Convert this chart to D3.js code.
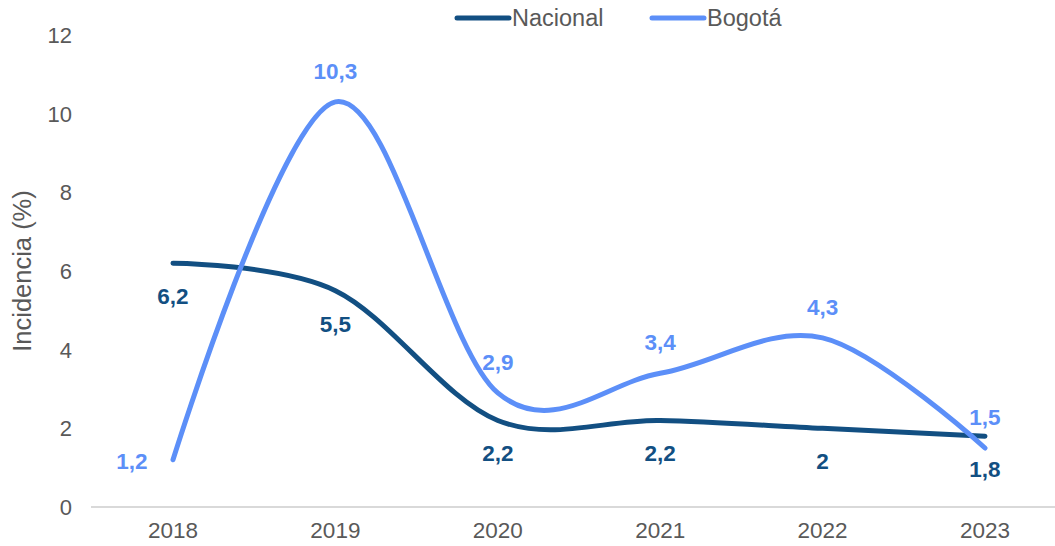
<!DOCTYPE html>
<html>
<head>
<meta charset="utf-8">
<script src="https://cdn.jsdelivr.net/npm/d3@7"></script>
<style>
  body { margin: 0; background: #fff; }
  text { font-family: "Liberation Sans", Arial, sans-serif; }
</style>
</head>
<body>
<div id="chart"></div>
<script>
const years = ["2018", "2019", "2020", "2021", "2022", "2023"];
const nacional = [6.2, 5.5, 2.2, 2.2, 2.0, 1.8];
const bogota = [1.2, 10.3, 2.9, 3.4, 4.3, 1.5];
const yTicks = [0, 2, 4, 6, 8, 10, 12];

const W = 1055, H = 546;
const colNac = "#124f82", colBog = "#5c8ff8";

const svg = d3.select("#chart").append("svg")
    .attr("width", W).attr("height", H);

const x = d3.scalePoint().domain(years).range([173, 985]);
const y = d3.scaleLinear().domain([0, 12]).range([507, 35]);

// x axis line
svg.append("line")
    .attr("x1", 91).attr("x2", W)
    .attr("y1", y(0)).attr("y2", y(0))
    .attr("stroke", "#d9d9d9").attr("stroke-width", 2);

svg.append("g").selectAll("text")
    .data(years).enter().append("text")
    .attr("x", d => x(d)).attr("y", 538)
    .attr("text-anchor", "middle")
    .attr("font-size", 22.5).attr("fill", "#595959")
    .text(d => d);

svg.append("g").selectAll("text")
    .data(yTicks).enter().append("text")
    .attr("x", 72).attr("y", d => y(d) + 8)
    .attr("text-anchor", "end")
    .attr("font-size", 22).attr("fill", "#595959")
    .text(d => d);

svg.append("text")
    .attr("transform", "translate(31,271)rotate(-90)")
    .attr("text-anchor", "middle")
    .attr("font-size", 25.5).attr("fill", "#595959")
    .text("Incidencia (%)");

const line = d3.line()
    .x((d, i) => x(years[i]))
    .y(d => y(d))
    .curve(d3.curveCatmullRom.alpha(0));

[[nacional, colNac], [bogota, colBog]].forEach(([vals, c]) => {
    svg.append("path")
        .attr("d", line(vals))
        .attr("fill", "none")
        .attr("stroke", c)
        .attr("stroke-width", 5)
        .attr("stroke-linecap", "round");
});

const fmt = v => String(v).replace(".", ",");

// Nacional labels below
svg.append("g").selectAll("text")
    .data(nacional).enter().append("text")
    .attr("x", (d, i) => x(years[i]))
    .attr("y", d => y(d) + 41)
    .attr("text-anchor", "middle")
    .attr("font-size", 22.5).attr("font-weight", "bold")
    .attr("fill", colNac)
    .text(fmt);

// Bogotá labels above (first one to the left)
svg.append("g").selectAll("text")
    .data(bogota).enter().append("text")
    .attr("x", (d, i) => i === 0 ? x(years[i]) - 41 : x(years[i]))
    .attr("y", (d, i) => i === 0 ? y(d) + 9 : y(d) - 23)
    .attr("text-anchor", "middle")
    .attr("font-size", 22.5).attr("font-weight", "bold")
    .attr("fill", colBog)
    .text(fmt);

// legend
const legend = [["Nacional", colNac, 455], ["Bogotá", colBog, 650]];
legend.forEach(([name, c, lx]) => {
    svg.append("line")
        .attr("x1", lx + 2).attr("x2", lx + 54)
        .attr("y1", 18).attr("y2", 18)
        .attr("stroke", c).attr("stroke-width", 5)
        .attr("stroke-linecap", "round");
    svg.append("text")
        .attr("x", lx + 57).attr("y", 26)
        .attr("font-size", 23.5).attr("fill", "#595959")
        .text(name);
});
</script>
</body>
</html>
